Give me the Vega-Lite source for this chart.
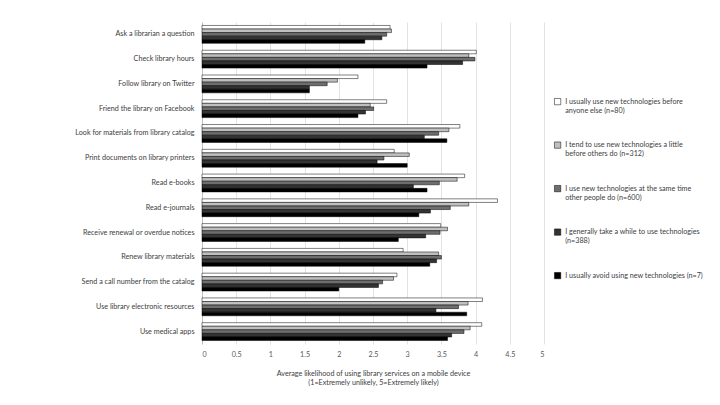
{
  "$schema": "https://vega.github.io/schema/vega-lite/v6.json",
  "width": 342,
  "height": 322,
  "autosize": {"type": "none"},
  "padding": {"left": 202, "top": 22, "right": 176, "bottom": 61},
  "background": "white",
  "config": {
    "view": {"stroke": null},
    "font": "Liberation Sans Narrow, Lato, sans-serif"
  },
  "data": {
    "values": [
      {"service": "Ask a librarian a question", "early": 2.75, "tend_early": 2.77, "same_time": 2.70, "a_while": 2.63, "avoid": 2.38},
      {"service": "Check library hours", "early": 4.01, "tend_early": 3.90, "same_time": 3.99, "a_while": 3.81, "avoid": 3.29},
      {"service": "Follow library on Twitter", "early": 2.28, "tend_early": 1.98, "same_time": 1.83, "a_while": 1.57, "avoid": 1.57},
      {"service": "Friend the library on Facebook", "early": 2.70, "tend_early": 2.46, "same_time": 2.51, "a_while": 2.39, "avoid": 2.28},
      {"service": "Look for materials from library catalog", "early": 3.77, "tend_early": 3.61, "same_time": 3.46, "a_while": 3.25, "avoid": 3.58},
      {"service": "Print documents on library printers", "early": 2.81, "tend_early": 3.03, "same_time": 2.66, "a_while": 2.56, "avoid": 3.00},
      {"service": "Read e-books", "early": 3.84, "tend_early": 3.73, "same_time": 3.47, "a_while": 3.09, "avoid": 3.29},
      {"service": "Read e-journals", "early": 4.32, "tend_early": 3.90, "same_time": 3.63, "a_while": 3.34, "avoid": 3.17},
      {"service": "Receive renewal or overdue notices", "early": 3.49, "tend_early": 3.59, "same_time": 3.48, "a_while": 3.27, "avoid": 2.87},
      {"service": "Renew library materials", "early": 2.94, "tend_early": 3.46, "same_time": 3.50, "a_while": 3.43, "avoid": 3.33},
      {"service": "Send a call number from the catalog", "early": 2.85, "tend_early": 2.80, "same_time": 2.64, "a_while": 2.58, "avoid": 2.00},
      {"service": "Use library electronic resources", "early": 4.10, "tend_early": 3.89, "same_time": 3.75, "a_while": 3.42, "avoid": 3.87},
      {"service": "Use medical apps", "early": 4.09, "tend_early": 3.92, "same_time": 3.83, "a_while": 3.65, "avoid": 3.59}
    ]
  },
  "transform": [
    {"fold": ["early", "tend_early", "same_time", "a_while", "avoid"], "as": ["group", "likelihood"]}
  ],
  "mark": {"type": "bar", "stroke": "#000000", "strokeWidth": 0.5},
  "encoding": {
    "y": {
      "field": "service",
      "type": "nominal",
      "sort": null,
      "scale": {"paddingInner": 0.28, "paddingOuter": 0.14},
      "axis": {
        "title": null,
        "ticks": false,
        "domainColor": "#bfbfbf",
        "labelPadding": 8,
        "labelFontSize": 7.2,
        "labelColor": "#404040",
        "labelLimit": 220
      }
    },
    "yOffset": {
      "field": "group",
      "type": "nominal",
      "sort": ["early", "tend_early", "same_time", "a_while", "avoid"],
      "scale": {"paddingInner": 0, "paddingOuter": 0}
    },
    "x": {
      "field": "likelihood",
      "type": "quantitative",
      "scale": {"domain": [0, 5], "nice": false},
      "axis": {
        "values": [0, 0.5, 1, 1.5, 2, 2.5, 3, 3.5, 4, 4.5, 5],
        "format": "~g",
        "grid": true,
        "gridColor": "#d9d9d9",
        "gridWidth": 0.75,
        "domain": false,
        "ticks": false,
        "labelPadding": 6,
        "labelFontSize": 7.2,
        "labelColor": "#595959",
        "title": ["Average likelihood of  using library services on a mobile device", "(1=Extremely unlikely, 5=Extremely likely)"],
        "titleFontSize": 7.2,
        "titleFontWeight": "normal",
        "titleColor": "#404040",
        "titlePadding": 12
      }
    },
    "fill": {
      "field": "group",
      "type": "nominal",
      "sort": ["early", "tend_early", "same_time", "a_while", "avoid"],
      "scale": {
        "domain": ["early", "tend_early", "same_time", "a_while", "avoid"],
        "range": ["#ffffff", "#bfbfbf", "#6e6e6e", "#333333", "#000000"]
      },
      "legend": {
        "orient": "none",
        "legendX": 352,
        "legendY": 76,
        "title": null,
        "symbolType": "square",
        "symbolSize": 40,
        "symbolStrokeColor": "#000000",
        "symbolStrokeWidth": 0.5,
        "labelFontSize": 7.2,
        "labelColor": "#404040",
        "labelLimit": 200,
        "rowPadding": 26.5,
        "labelExpr": "datum.value == 'early' ? ['I usually use new technologies before', 'anyone else (n=80)'] : datum.value == 'tend_early' ? ['I tend to use new technologies a little', 'before others do (n=312)'] : datum.value == 'same_time' ? ['I use new technologies at the same time', 'other people do (n=600)'] : datum.value == 'a_while' ? ['I generally take a while to use technologies', '(n=388)'] : 'I usually avoid using new technologies (n=7)'"
      }
    }
  }
}
